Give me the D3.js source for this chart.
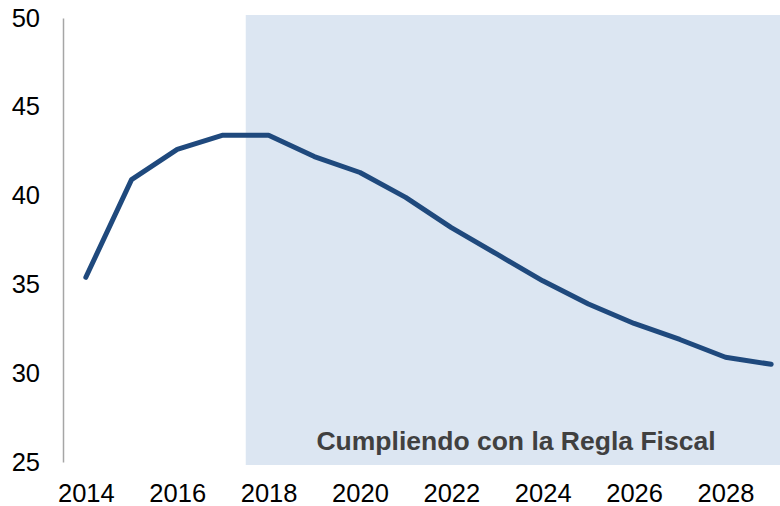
<!DOCTYPE html>
<html>
<head>
<meta charset="utf-8">
<script src="https://cdn.jsdelivr.net/npm/d3@7"></script>
<style>
  body { margin: 0; background: #fff; }
  svg text { font-family: "Liberation Sans", Arial, sans-serif; }
</style>
</head>
<body>
<div id="chart"></div>
<script>
// data
var years = [2014, 2015, 2016, 2017, 2018, 2019, 2020, 2021, 2022, 2023, 2024, 2025, 2026, 2027, 2028, 2029];
var values = [35.4, 40.9, 42.6, 43.4, 43.4, 42.2, 41.3, 39.9, 38.2, 36.7, 35.2, 33.9, 32.8, 31.9, 30.9, 30.5];
var xTickLabels = [2014, 2016, 2018, 2020, 2022, 2024, 2026, 2028];
var yTickLabels = [25, 30, 35, 40, 45, 50];
// shaded projection band (in year units)
var shadeFrom = 2017.5, shadeTo = 2029.5;
var shadeLabel = "Cumpliendo con la Regla Fiscal";

var width = 780, height = 506;
var svg = d3.select("#chart").append("svg")
    .attr("width", width).attr("height", height);

// categories sit in the middle of their slot, so domain runs half a year each side
var x = d3.scaleLinear().domain([2013.5, 2029.5]).range([63, 794]);
var y = d3.scaleLinear().domain([25, 50]).range([462, 18]);

// shaded area
svg.append("rect")
    .attr("x", x(shadeFrom))
    .attr("y", y(50) - 3)
    .attr("width", x(shadeTo) - x(shadeFrom))
    .attr("height", y(25) - y(50) + 6)
    .attr("fill", "#dce6f2");

svg.append("text")
    .attr("x", 516)
    .attr("y", 450)
    .attr("text-anchor", "middle")
    .attr("font-size", 26.5)
    .attr("font-weight", "bold")
    .attr("fill", "#404040")
    .text(shadeLabel);

// y axis
var yAxis = d3.axisLeft(y).tickValues(yTickLabels).tickSize(0).tickPadding(23);
var gy = svg.append("g").attr("transform", "translate(" + x(2013.5) + ",0)").call(yAxis);
gy.select(".domain").attr("stroke", "#a6a6a6").attr("stroke-width", 1.5);
gy.selectAll("text").attr("font-size", 25.5).attr("fill", "#000")
    .attr("font-family", "'Liberation Sans', Arial, sans-serif");

// x axis (no line, labels only)
var xAxis = d3.axisBottom(x).tickValues(xTickLabels).tickFormat(d3.format("d")).tickSize(0).tickPadding(22);
var gx = svg.append("g").attr("transform", "translate(0," + y(25) + ")").call(xAxis);
gx.select(".domain").remove();
gx.selectAll("text").attr("font-size", 25.5).attr("fill", "#000")
    .attr("font-family", "'Liberation Sans', Arial, sans-serif");

// line
var line = d3.line()
    .x(function (d, i) { return x(years[i]); })
    .y(function (d) { return y(d); });

svg.append("path")
    .datum(values)
    .attr("d", line)
    .attr("fill", "none")
    .attr("stroke", "#1f497d")
    .attr("stroke-width", 5)
    .attr("stroke-linejoin", "round")
    .attr("stroke-linecap", "round");
</script>
</body>
</html>
